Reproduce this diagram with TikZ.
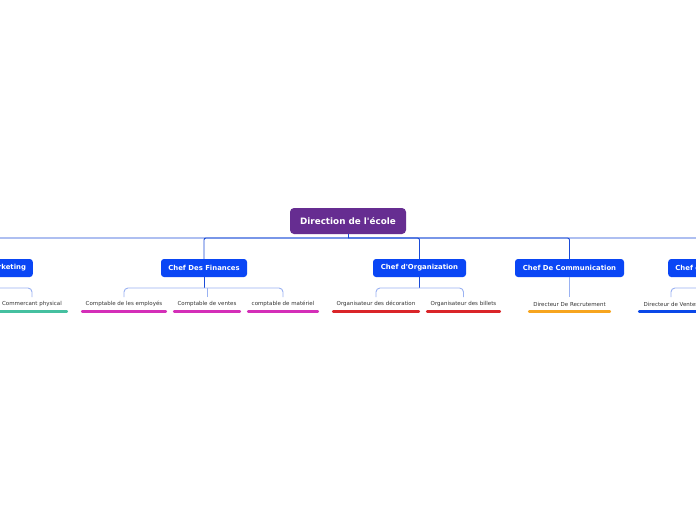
\documentclass[tikz,border=0pt]{standalone}
\usepackage{fontspec}
\setmainfont{DejaVu Sans}
\begin{document}
\begin{tikzpicture}[x=1pt,y=-1pt,
  rootbox/.style={draw=none,fill=rootpurple,rounded corners=4pt,text=white,font=\bfseries\fontsize{8.8}{10}\selectfont,minimum width=116pt,minimum height=26pt,inner sep=0pt},
  chiefbox/.style={fill=chiefblue,rounded corners=3pt,text=white,font=\bfseries\fontsize{6.9}{8}\selectfont,minimum height=18pt,inner sep=0pt},
  leaf/.style={font=\fontsize{5.5}{6.5}\selectfont,text=black!80,minimum height=14pt,inner sep=0pt,anchor=north},
  mainline/.style={draw=lineblue,line width=0.9pt},
  subline/.style={draw=sublight,line width=0.9pt,rounded corners=4pt},
  ul/.style={draw=#1,line width=2.8pt,line cap=round,shorten <=1.4pt,shorten >=1.4pt}
]
\definecolor{rootpurple}{HTML}{662D91}
\definecolor{chiefblue}{HTML}{0A46F5}
\definecolor{lineblue}{HTML}{1A4BD8}
\definecolor{sublight}{HTML}{9AB2F2}
\definecolor{cgreen}{HTML}{45C0A0}
\definecolor{cmag}{HTML}{D42FB8}
\definecolor{cred}{HTML}{DA2529}
\definecolor{corange}{HTML}{F7A51F}
\definecolor{cblue}{HTML}{0B48E8}
\useasboundingbox[fill=white] (0,0) rectangle (696,520);

% root and chiefs
\node[rootbox] (root) at (348,221) {Direction de l\textquotesingle école};
\node[chiefbox,minimum width=86pt,anchor=east] (mkt) at (33,268) {Chef De Marketing};
\node[chiefbox,minimum width=86pt] (fin) at (204,268) {Chef Des Finances};
\node[chiefbox,minimum width=93pt] (org) at (419.5,268) {Chef d\textquotesingle Organization};
\node[chiefbox,minimum width=109pt] (com) at (569.5,268) {Chef De Communication};
\node[chiefbox,minimum width=73pt,anchor=west] (ven) at (668,268) {Chef de Ventes};

\coordinate (rj) at (348,238);
\draw[mainline] (root.south) -- (rj);
\draw[mainline,rounded corners=2pt] (mkt.north) |- (rj);
\draw[mainline,rounded corners=2pt] (fin.north) |- (rj);
\draw[mainline,rounded corners=2pt] (org.north) |- (rj);
\draw[mainline,rounded corners=2pt] (com.north) |- (rj);
\draw[mainline,rounded corners=2pt] (ven.north) |- (rj);

% leaves
\node[leaf,minimum width=72pt] (m1) at (32,297) {Commercant physical};
\node[leaf,minimum width=86pt] (f1) at (124,297) {Comptable de les employés};
\node[leaf,minimum width=68pt] (f2) at (207,297) {Comptable de ventes};
\node[leaf,minimum width=72pt] (f3) at (283,297) {comptable de matériel};
\node[leaf,minimum width=88pt] (o1) at (376,297) {Organisateur des décoration};
\node[leaf,minimum width=75pt] (o2) at (463.5,297) {Organisateur des billets};
\node[leaf,minimum width=83pt] (c1) at (569.5,297) {Directeur De Recrutement};
\node[leaf,minimum width=66pt] (v1) at (671,297) {Directeur de Ventes};

\foreach \n/\c in {m1/cgreen,f1/cmag,f2/cmag,f3/cmag,o1/cred,o2/cred,c1/corange,v1/cblue}
  \draw[ul=\c] (\n.south west) -- (\n.south east);

% brackets
\coordinate (mj) at (mkt.south |- 0,288);
\coordinate (fj) at (fin.south |- 0,288);
\coordinate (oj) at (org.south |- 0,288);
\coordinate (vj) at (ven.south |- 0,288);
\draw[mainline] (mkt.south) -- (mj);
\draw[mainline] (fin.south) -- (fj);
\draw[mainline] (org.south) -- (oj);
\draw[mainline] (ven.south) -- (vj);
\draw[subline] (m1.north) |- (mj);
\draw[subline] (f1.north) |- (fj) -| (f3.north);
\draw[subline] (f2.north) -- (f2.north |- fj);
\draw[subline] (o1.north) |- (oj) -| (o2.north);
\draw[subline] (v1.north) |- (vj);
\draw[subline] (com.south) -- (c1.north);
\end{tikzpicture}
\end{document}
